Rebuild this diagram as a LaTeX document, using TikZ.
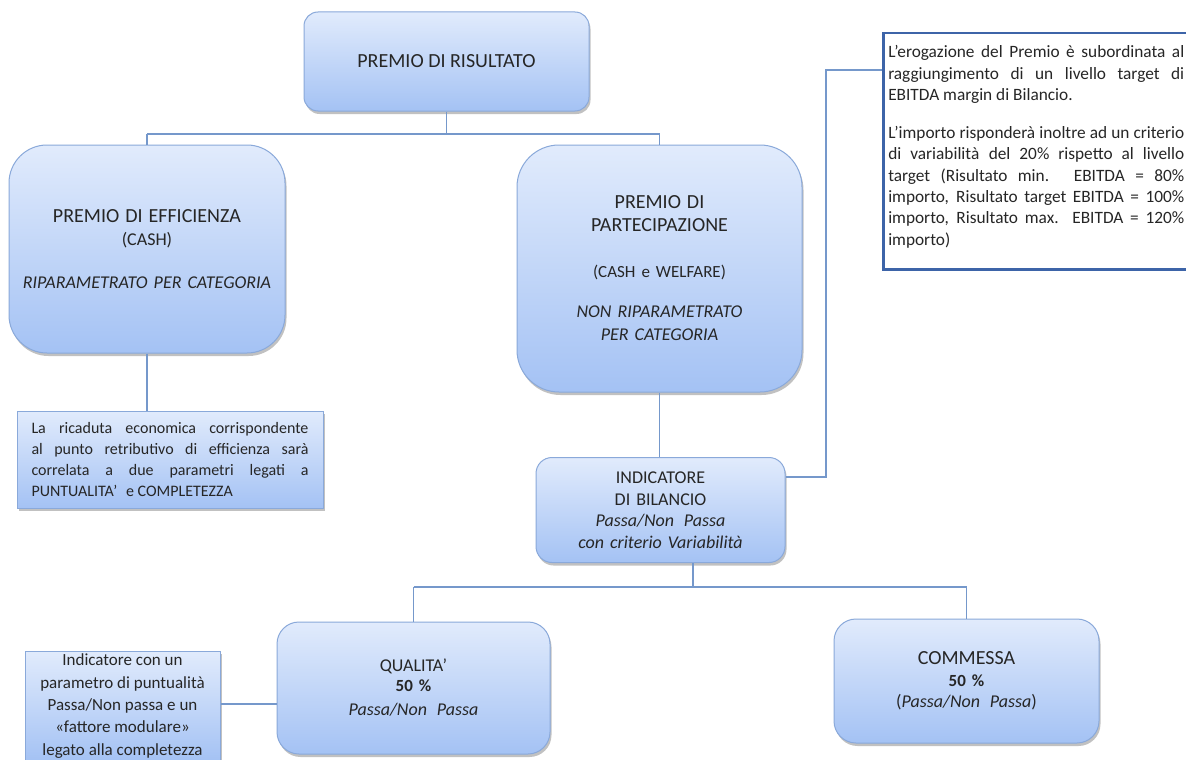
\documentclass[tikz,border=0pt]{standalone}
\usepackage{fontspec}
\setmainfont{Carlito}
\usetikzlibrary{shadows}
\definecolor{boxtop}{HTML}{E1EBFC}
\definecolor{boxbot}{HTML}{A4C2F4}
\definecolor{boxline}{HTML}{8AA9DA}
\definecolor{connc}{HTML}{7598CB}
\definecolor{notebd}{HTML}{3D64A8}
\definecolor{txt}{HTML}{262626}
\newcommand{\fsz}[2]{\fontsize{#1}{#2}\selectfont}
\newcommand{\dsp}{\hspace{0.55em}}
\begin{document}
\begin{tikzpicture}[x=1pt,y=-1pt,
  box/.style={draw=boxline, line width=1pt, top color=boxtop, bottom color=boxbot,
    text=txt, align=center, inner sep=0pt,
    drop shadow={shadow xshift=1.5pt, shadow yshift=-3pt, opacity=0.3, fill=black!80}},
  conn/.style={draw=connc, line width=1.4pt},
]
\useasboundingbox (0,0) rectangle (1186,760);
\fill[white] (0,0) rectangle (1186,760);

% main boxes
\node[box, rounded corners=14pt, minimum width=285pt, minimum height=99pt, font=\fsz{20}{24}] (ris) at (446.5,61.5)
  {PREMIO DI RISULTATO};

\node[box, rounded corners=38pt, minimum width=276pt, minimum height=208pt, text width=272pt, font=\fsz{18}{23}] (eff) at (147,249)
  {{\fsz{20}{23}PREMIO DI EFFICIENZA}\\ (CASH)\\[20pt] {\itshape RIPARAMETRATO PER CATEGORIA}};

\node[box, rounded corners=42pt, minimum width=285pt, minimum height=247pt, text width=270pt, font=\fsz{18}{23}] (par) at (659.5,268.5)
  {{\fsz{20}{23}PREMIO DI}\\ {\fsz{20}{23}PARTECIPAZIONE}\\[23pt] {\fsz{17}{23}(CASH e WELFARE)}\\[17pt] {\itshape NON RIPARAMETRATO}\\ {\itshape PER CATEGORIA}};

\node[box, minimum width=306pt, minimum height=97pt, text width=277pt, align=justify, font=\fsz{16}{21}] (ric) at (170,459.5)
  {\tolerance=10000\hbadness=10000 La ricaduta economica corrispondente\linebreak al punto retributivo di efficienza sarà\linebreak correlata a due parametri legati a\linebreak PUNTUALITA’\dsp e COMPLETEZZA};

\node[box, rounded corners=16pt, minimum width=249pt, minimum height=105pt, text width=240pt, font=\fsz{18}{21.5}] (ind) at (660.5,510)
  {INDICATORE\\ DI BILANCIO\\ {\itshape Passa/Non\dsp Passa}\\ {\itshape con criterio Variabilità}};

\node[draw=notebd, line width=2.5pt, fill=white, anchor=north west, inner xsep=5pt, inner ysep=0pt,
      minimum height=236pt, text width=296pt, align=justify, text=txt, font=\fsz{17.3}{21.4},
      drop shadow={shadow xshift=1pt, shadow yshift=-2pt, opacity=0.2, fill=black}] (note) at (882,32)
  {\tolerance=10000\hbadness=10000
   L’erogazione del Premio è subordinata al\linebreak raggiungimento di un livello target di\linebreak EBITDA margin di Bilancio.\par\vspace{16.5pt}
   L’importo risponderà inoltre ad un criterio\linebreak di variabilità\dsp del 20\% rispetto al livello\linebreak target (Risultato min. EBITDA = 80\%\linebreak importo, Risultato target EBITDA = 100\%\linebreak importo, Risultato max. EBITDA = 120\%\linebreak importo)\par\vspace{9pt}};

\node[box, rounded corners=22pt, minimum width=273pt, minimum height=132pt, text width=260pt, font=\fsz{18}{20}] (qual) at (413.5,688)
  {QUALITA’\\ {\fsz{17}{20}\bfseries 50 \%}\\[4pt] {\itshape Passa/Non\dsp Passa}};

\node[box, rounded corners=22pt, minimum width=265pt, minimum height=124pt, text width=255pt, font=\fsz{18}{21.5}] (comm) at (966.5,681)
  {{\fsz{20}{22}COMMESSA}\\ {\fsz{17}{21}\bfseries 50 \%}\\ (\textit{Passa/Non\dsp Passa})};

\node[box, minimum width=195pt, minimum height=110pt, font=\fsz{17}{22.3}] (ind2) at (122.5,706)
  {Indicatore con un\\ parametro di puntualità\\ Passa/Non passa e un\\ «fattore modulare»\\ legato alla completezza};

% connectors
\coordinate (topbus) at (446.5,134);
\draw[conn] (ris.south) -- (topbus);
\draw[conn] (eff.north |- topbus) -- (par.north |- topbus);
\draw[conn] (eff.north |- topbus) -- (eff.north);
\draw[conn] (par.north |- topbus) -- (par.north);
\draw[conn] (eff.south) -- (eff.south |- ric.north);
\draw[conn] (par.south) -- (par.south |- ind.north);
\coordinate (kink) at (826,70);
\draw[conn] ([yshift=33pt]ind.east) -| (kink) -- (kink -| note.west);
\coordinate (bus) at (693,587);
\draw[conn] (bus |- ind.south) -- (bus);
\draw[conn] (qual.north |- bus) -- (comm.north |- bus);
\draw[conn] (qual.north |- bus) -- (qual.north);
\draw[conn] (comm.north |- bus) -- (comm.north);
\draw[conn] ([yshift=-16pt]qual.west) -- ([yshift=-16pt]qual.west -| ind2.east);
\end{tikzpicture}
\end{document}
